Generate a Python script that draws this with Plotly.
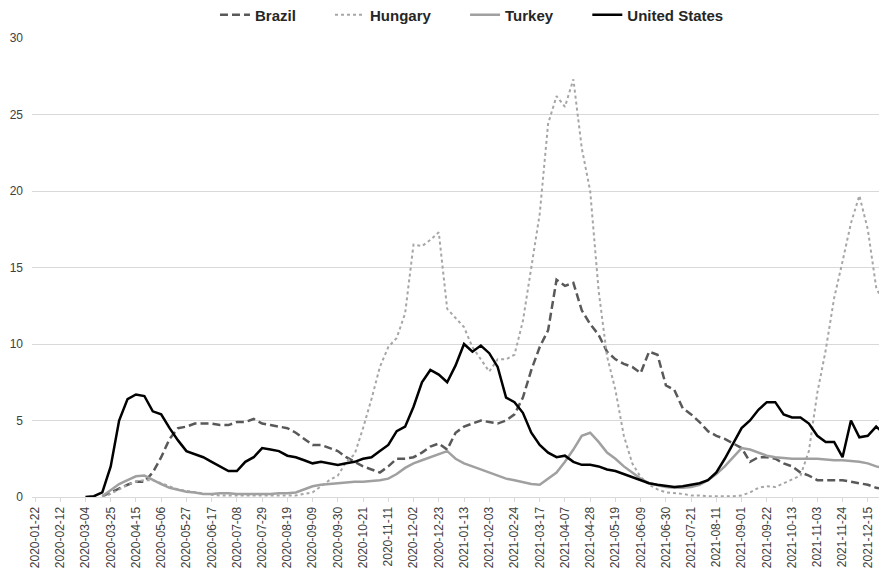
import pandas as pd
import plotly.graph_objects as go

# weekly sample dates (categories)
dates = [d.strftime("%Y-%m-%d") for d in pd.date_range("2020-01-22", periods=102, freq="7D")]

tick_labels = [
    "2020-01-22", "2020-02-12", "2020-03-04", "2020-03-25", "2020-04-15", "2020-05-06",
    "2020-05-27", "2020-06-17", "2020-07-08", "2020-07-29", "2020-08-19", "2020-09-09",
    "2020-09-30", "2020-10-21", "2020-11-11", "2020-12-02", "2020-12-23", "2021-01-13",
    "2021-02-03", "2021-02-24", "2021-03-17", "2021-04-07", "2021-04-28", "2021-05-19",
    "2021-06-09", "2021-06-30", "2021-07-21", "2021-08-11", "2021-09-01", "2021-09-22",
    "2021-10-13", "2021-11-03", "2021-11-24", "2021-12-15",
]
y_ticks = [0, 5, 10, 15, 20, 25, 30]

brazil = [None] * 8 + [
    0.05, 0.3, 0.6, 0.8, 1.0, 1.0, 1.6, 2.6, 3.8, 4.5,
    4.6, 4.8, 4.8, 4.8, 4.7, 4.7, 4.9, 4.9, 5.1, 4.8,
    4.7, 4.6, 4.5, 4.2, 3.8, 3.4, 3.4, 3.2, 3.0, 2.6,
    2.3, 2.0, 1.8, 1.6, 2.0, 2.5, 2.5, 2.6, 2.9, 3.3,
    3.5, 3.1, 4.2, 4.6, 4.8, 5.0, 4.9, 4.8, 5.0, 5.4,
    6.5, 8.3, 9.8, 10.9, 14.2, 13.8, 14.0, 12.2, 11.3, 10.6,
    9.5, 9.0, 8.7, 8.5, 8.1, 9.5, 9.3, 7.3, 7.0, 5.8,
    5.4, 4.9, 4.3, 4.0, 3.8, 3.5, 3.2, 2.3, 2.6, 2.6,
    2.5, 2.2, 2.0, 1.6, 1.4, 1.1, 1.1, 1.1, 1.1, 1.0,
    0.9, 0.8, 0.6, 0.5,
]

hungary = [None] * 8 + [
    0.0, 0.2, 0.5, 0.8, 1.0, 1.1, 1.1, 0.9, 0.7, 0.5,
    0.4, 0.3, 0.2, 0.15, 0.1, 0.1, 0.1, 0.1, 0.1, 0.1,
    0.1, 0.1, 0.1, 0.1, 0.2, 0.3, 0.7, 1.1, 1.4, 2.3,
    2.8, 4.5, 6.4, 8.5, 9.8, 10.4, 12.0, 16.5, 16.4, 16.8,
    17.3, 12.3, 11.7, 11.1, 9.8, 9.0, 8.2, 9.0, 9.0, 9.3,
    11.5, 15.0, 18.5, 24.4, 26.2, 25.5, 27.3, 22.8, 20.0, 13.5,
    9.2, 7.0, 4.0, 2.2, 1.3, 0.8, 0.5, 0.3, 0.25, 0.2,
    0.1, 0.1, 0.05, 0.05, 0.05, 0.05, 0.1, 0.3, 0.6, 0.7,
    0.65, 0.9, 1.2, 1.4, 3.0, 6.8, 9.6, 13.0, 15.4, 17.9,
    19.7, 17.5, 13.7, 12.5,
]

turkey = [None] * 8 + [
    0.05, 0.45, 0.85, 1.1, 1.35, 1.4, 1.1, 0.85, 0.6, 0.45,
    0.35, 0.3, 0.2, 0.2, 0.25, 0.25, 0.2, 0.2, 0.2, 0.2,
    0.2, 0.25, 0.25, 0.3, 0.5, 0.7, 0.8, 0.85, 0.9, 0.95,
    1.0, 1.0, 1.05, 1.1, 1.2, 1.5, 1.9, 2.2, 2.4, 2.6,
    2.85, 3.0, 2.5, 2.2, 2.0, 1.8, 1.6, 1.4, 1.2, 1.1,
    0.95, 0.85, 0.8, 1.2, 1.6, 2.3, 3.1, 4.0, 4.2, 3.6,
    2.9, 2.5, 2.0, 1.6, 1.2, 0.9, 0.75, 0.65, 0.6, 0.6,
    0.65, 0.8, 1.1, 1.5, 2.0, 2.6, 3.2, 3.1, 2.9, 2.7,
    2.6, 2.55, 2.5, 2.5, 2.5, 2.5, 2.45, 2.4, 2.4, 2.35,
    2.3, 2.2, 2.0, 1.9,
]

united_states = [None] * 6 + [
    0.0, 0.05, 0.3, 2.0, 5.0, 6.4, 6.7, 6.6, 5.6, 5.4,
    4.5, 3.7, 3.0, 2.8, 2.6, 2.3, 2.0, 1.7, 1.7, 2.3,
    2.6, 3.2, 3.1, 3.0, 2.7, 2.6, 2.4, 2.2, 2.3, 2.2,
    2.1, 2.2, 2.3, 2.5, 2.6, 3.0, 3.4, 4.3, 4.6, 5.9,
    7.5, 8.3, 8.0, 7.5, 8.6, 10.0, 9.5, 9.9, 9.4, 8.5,
    6.5, 6.2, 5.5, 4.2, 3.4, 2.9, 2.6, 2.7, 2.3, 2.1,
    2.1, 2.0, 1.8, 1.7, 1.5, 1.3, 1.1, 0.9, 0.8, 0.7,
    0.65, 0.7, 0.8, 0.9, 1.1, 1.6, 2.5, 3.5, 4.5, 5.0,
    5.7, 6.2, 6.2, 5.4, 5.2, 5.2, 4.8, 4.0, 3.6, 3.6,
    2.6, 5.0, 3.9, 4.0, 4.6, 4.1,
]

series = [
    ("Brazil", brazil, dict(color="#595959", width=2.5, dash="8px,4px"), 7),
    ("Hungary", hungary, dict(color="#a6a6a6", width=2, dash="dot"), 7),
    ("Turkey", turkey, dict(color="#a0a0a0", width=2.5), 7),
    ("United States", united_states, dict(color="#000000", width=2.5), 0),
]

fig = go.Figure()
for name, vals, line, pad in series:
    fig.add_trace(go.Scatter(x=dates, y=vals, name="<b>" + name + "</b>" + "\u00a0" * pad,
                             mode="lines", line=line))

font_family = "Liberation Sans, Arial, sans-serif"

# page body has an 8px default margin: size the figure to fit the window
fig.update_layout(
    width=879,
    height=561,
    margin=dict(l=24, r=0, t=30, b=72, autoexpand=False),
    paper_bgcolor="white",
    plot_bgcolor="white",
    font=dict(family=font_family, size=12, color="#404040"),
    showlegend=True,
    legend=dict(
        orientation="h",
        x=0.214,
        xanchor="left",
        y=1.05,
        yanchor="middle",
        font=dict(size=15, color="#262626", family=font_family),
        itemwidth=30,
    ),
)
fig.update_xaxes(
    type="date",
    range=["2020-01-19 12:00", "2021-12-31"],
    tickvals=tick_labels,
    ticktext=tick_labels,
    tickangle=-90,
    showgrid=False,
    showline=True,
    linecolor="#d9d9d9",
    linewidth=1,
    ticks="outside",
    ticklen=4,
    tickcolor="#d9d9d9",
    tickfont=dict(size=12, color="#404040"),
    zeroline=False,
    automargin=False,
)
fig.update_yaxes(
    range=[0, 30],
    tickvals=y_ticks,
    showgrid=True,
    gridcolor="#d9d9d9",
    gridwidth=1,
    zeroline=False,
    showline=False,
    tickfont=dict(size=12, color="#404040"),
    ticks="",
    ticklabelstandoff=8,
    automargin=False,
)

fig.write_html("out.html")
